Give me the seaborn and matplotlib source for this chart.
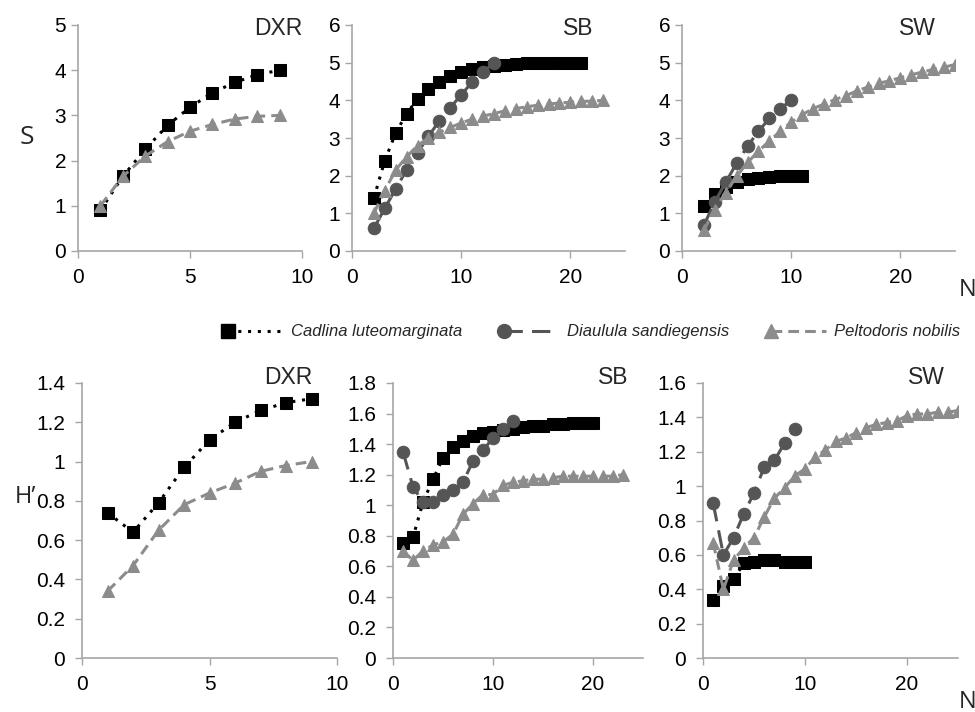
import numpy as np
import pandas as pd
import matplotlib
matplotlib.use("Agg")
import matplotlib.pyplot as plt
from matplotlib.ticker import FuncFormatter, MultipleLocator
import seaborn as sns

# ---------------- Data ----------------
# species richness S
s_dxr_cad = [0.9, 1.65, 2.25, 2.78, 3.18, 3.5, 3.73, 3.9, 4.0]
s_dxr_pel = [1.0, 1.65, 2.1, 2.42, 2.65, 2.8, 2.92, 2.98, 3.0]

s_sb_cad = [1.4, 2.4, 3.13, 3.65, 4.03, 4.3, 4.5, 4.65, 4.75, 4.82,
            4.88, 4.92, 4.95, 4.97, 4.98, 4.99, 5.0, 5.0, 5.0, 5.0]
s_sb_dia = [0.6, 1.13, 1.65, 2.15, 2.6, 3.05, 3.45, 3.8, 4.15, 4.48, 4.75, 5.0]
s_sb_pel = [1.0, 1.6, 2.15, 2.5, 2.8, 3.0, 3.15, 3.28, 3.4, 3.5, 3.58,
            3.65, 3.72, 3.78, 3.83, 3.87, 3.9, 3.93, 3.95, 3.97, 3.98, 4.0]

s_sw_cad = [1.2, 1.5, 1.7, 1.82, 1.9, 1.95, 1.97, 1.98, 1.99, 2.0]
s_sw_dia = [0.68, 1.3, 1.82, 2.33, 2.78, 3.18, 3.52, 3.78, 4.0]
s_sw_pel = [0.55, 1.1, 1.55, 1.98, 2.35, 2.65, 2.92, 3.18, 3.42, 3.62, 3.78, 3.9,
            4.02, 4.12, 4.25, 4.35, 4.45, 4.52, 4.6, 4.68, 4.75, 4.82, 4.88, 4.95]

# Shannon diversity H'
h_dxr_cad = [0.74, 0.64, 0.79, 0.97, 1.11, 1.20, 1.26, 1.30, 1.32]
h_dxr_pel = [0.34, 0.47, 0.65, 0.78, 0.84, 0.89, 0.95, 0.98, 1.0]

h_sb_cad = [0.75, 0.79, 1.02, 1.17, 1.31, 1.38, 1.42, 1.45, 1.47, 1.48,
            1.49, 1.50, 1.51, 1.52, 1.52, 1.53, 1.53, 1.54, 1.54, 1.54]
h_sb_dia = [1.35, 1.12, 1.02, 1.02, 1.07, 1.10, 1.15, 1.29, 1.36, 1.44, 1.50, 1.55]
h_sb_pel = [0.70, 0.64, 0.70, 0.74, 0.76, 0.81, 0.94, 1.01, 1.07, 1.07, 1.13, 1.15,
            1.16, 1.17, 1.17, 1.18, 1.19, 1.19, 1.19, 1.19, 1.19, 1.19, 1.20]

h_sw_cad = [0.34, 0.42, 0.46, 0.55, 0.56, 0.57, 0.57, 0.56, 0.56, 0.56]
h_sw_dia = [0.90, 0.60, 0.70, 0.84, 0.96, 1.11, 1.15, 1.25, 1.33]
h_sw_pel = [0.67, 0.40, 0.57, 0.64, 0.70, 0.82, 0.93, 0.99, 1.06, 1.10, 1.17, 1.21, 1.26,
            1.28, 1.31, 1.34, 1.36, 1.37, 1.38, 1.41, 1.42, 1.42, 1.43, 1.43, 1.44]

species = ["Cadlina luteomarginata", "Diaulula sandiegensis", "Peltodoris nobilis"]
sites = ["DXR", "SB", "SW"]

# first N value of each curve
s_start = {"DXR": 1, "SB": 2, "SW": 2}
h_start = {"DXR": 1, "SB": 1, "SW": 1}

s_data = {"DXR": [s_dxr_cad, None, s_dxr_pel],
          "SB": [s_sb_cad, s_sb_dia, s_sb_pel],
          "SW": [s_sw_cad, s_sw_dia, s_sw_pel]}
h_data = {"DXR": [h_dxr_cad, None, h_dxr_pel],
          "SB": [h_sb_cad, h_sb_dia, h_sb_pel],
          "SW": [h_sw_cad, h_sw_dia, h_sw_pel]}

# ---------------- Styling ----------------
sns.set_style("white")
plt.rcParams["font.family"] = ["Liberation Sans", "DejaVu Sans"]

styles = [
    dict(color="black", marker="s", linestyle=(0, (1, 2.2)), markersize=8.5, lw=2.2),
    dict(color="#555555", marker="o", linestyle=(0, (6, 3)), markersize=9, lw=2.2),
    dict(color="#8c8c8c", marker="^", linestyle=(0, (3.5, 2)), markersize=8.5, lw=2.2),
]

W, H = 975, 712
fig = plt.figure(figsize=(W / 100, H / 100), dpi=100)

def box(l, r, t, b):
    return [l / W, 1 - b / H, (r - l) / W, (b - t) / H]

top_boxes = [box(78, 302, 25, 251), box(352, 625, 25, 251), box(682, 955, 25, 251)]
bot_boxes = [box(82, 337, 383, 658), box(393, 643, 383, 658), box(703, 958, 383, 658)]
top_lims = [(10, 5, 5, 1), (25, 6, 10, 1), (25, 6, 10, 1)]
bot_lims = [(10, 1.4, 5, 0.2), (25, 1.8, 10, 0.2), (25, 1.6, 10, 0.2)]
top_title_pos = [(1.0, 0.985), (0.885, 0.985), (0.93, 0.985)]
bot_title_pos = [(0.905, 1.02), (0.94, 1.02), (0.95, 1.02)]

fmt = FuncFormatter(lambda v, p: f"{v:g}")

def draw_panel(rect, site, data, start, lims, tpos, ypad):
    ax = fig.add_axes(rect)
    for i, vals in enumerate(data[site]):
        if vals is None:
            continue
        df = pd.DataFrame({"N": np.arange(start[site], start[site] + len(vals)), "v": vals})
        st = styles[i]
        sns.lineplot(data=df, x="N", y="v", ax=ax, color=st["color"], marker=st["marker"],
                     linestyle=st["linestyle"], markersize=st["markersize"], lw=st["lw"],
                     markeredgecolor=st["color"], zorder=3 + i)
    xmax, ymax, xstep, ystep = lims
    ax.set_xlim(0, xmax)
    ax.set_ylim(0, ymax)
    ax.xaxis.set_major_locator(MultipleLocator(xstep))
    ax.yaxis.set_major_locator(MultipleLocator(ystep))
    ax.xaxis.set_major_formatter(fmt)
    ax.yaxis.set_major_formatter(fmt)
    ax.set_xlabel("")
    ax.set_ylabel("")
    sns.despine(ax=ax)
    for sp in ["left", "bottom"]:
        ax.spines[sp].set_color("#a6a6a6")
        ax.spines[sp].set_linewidth(1.2)
    ax.tick_params(direction="out", length=5, width=1, color="#a6a6a6",
                   labelsize=15, labelcolor="black", left=True, bottom=True)
    ax.tick_params(axis="x", pad=7)
    ax.tick_params(axis="y", pad=ypad)
    ax.text(tpos[0], tpos[1], site, transform=ax.transAxes, ha="right", va="center",
            fontsize=16.5)
    return ax

for k, site in enumerate(sites):
    draw_panel(top_boxes[k], site, s_data, s_start, top_lims[k], top_title_pos[k], 3.5)
    draw_panel(bot_boxes[k], site, h_data, h_start, bot_lims[k], bot_title_pos[k], 7)

# axis letters
fig.text(27 / W, 1 - 137 / H, "S", fontsize=19, family="Open Sans", ha="center", va="center")
fig.text(25 / W, 1 - 497 / H, "H\u2019", fontsize=17, family="Open Sans", ha="center", va="center")
fig.text(968 / W, 1 - 290 / H, "N", fontsize=17, family="Open Sans", ha="center", va="center")
fig.text(968 / W, 1 - 702 / H, "N", fontsize=17, family="Open Sans", ha="center", va="center")

# legend
handles = [plt.Line2D([], [], color=st["color"], marker=st["marker"], linestyle=st["linestyle"],
                      markersize=st["markersize"] + 1, lw=st["lw"], markeredgecolor=st["color"])
           for st in styles]
leg = fig.legend(handles, species, loc="center", bbox_to_anchor=(594 / W, 1 - 332 / H), ncol=3,
                 frameon=False, handlelength=3.3, columnspacing=2.5, handletextpad=0.5,
                 prop={"style": "italic", "size": 12})
for h in leg.legend_handles:
    h.set_markevery([0])

fig.savefig("out.png", dpi=100)
